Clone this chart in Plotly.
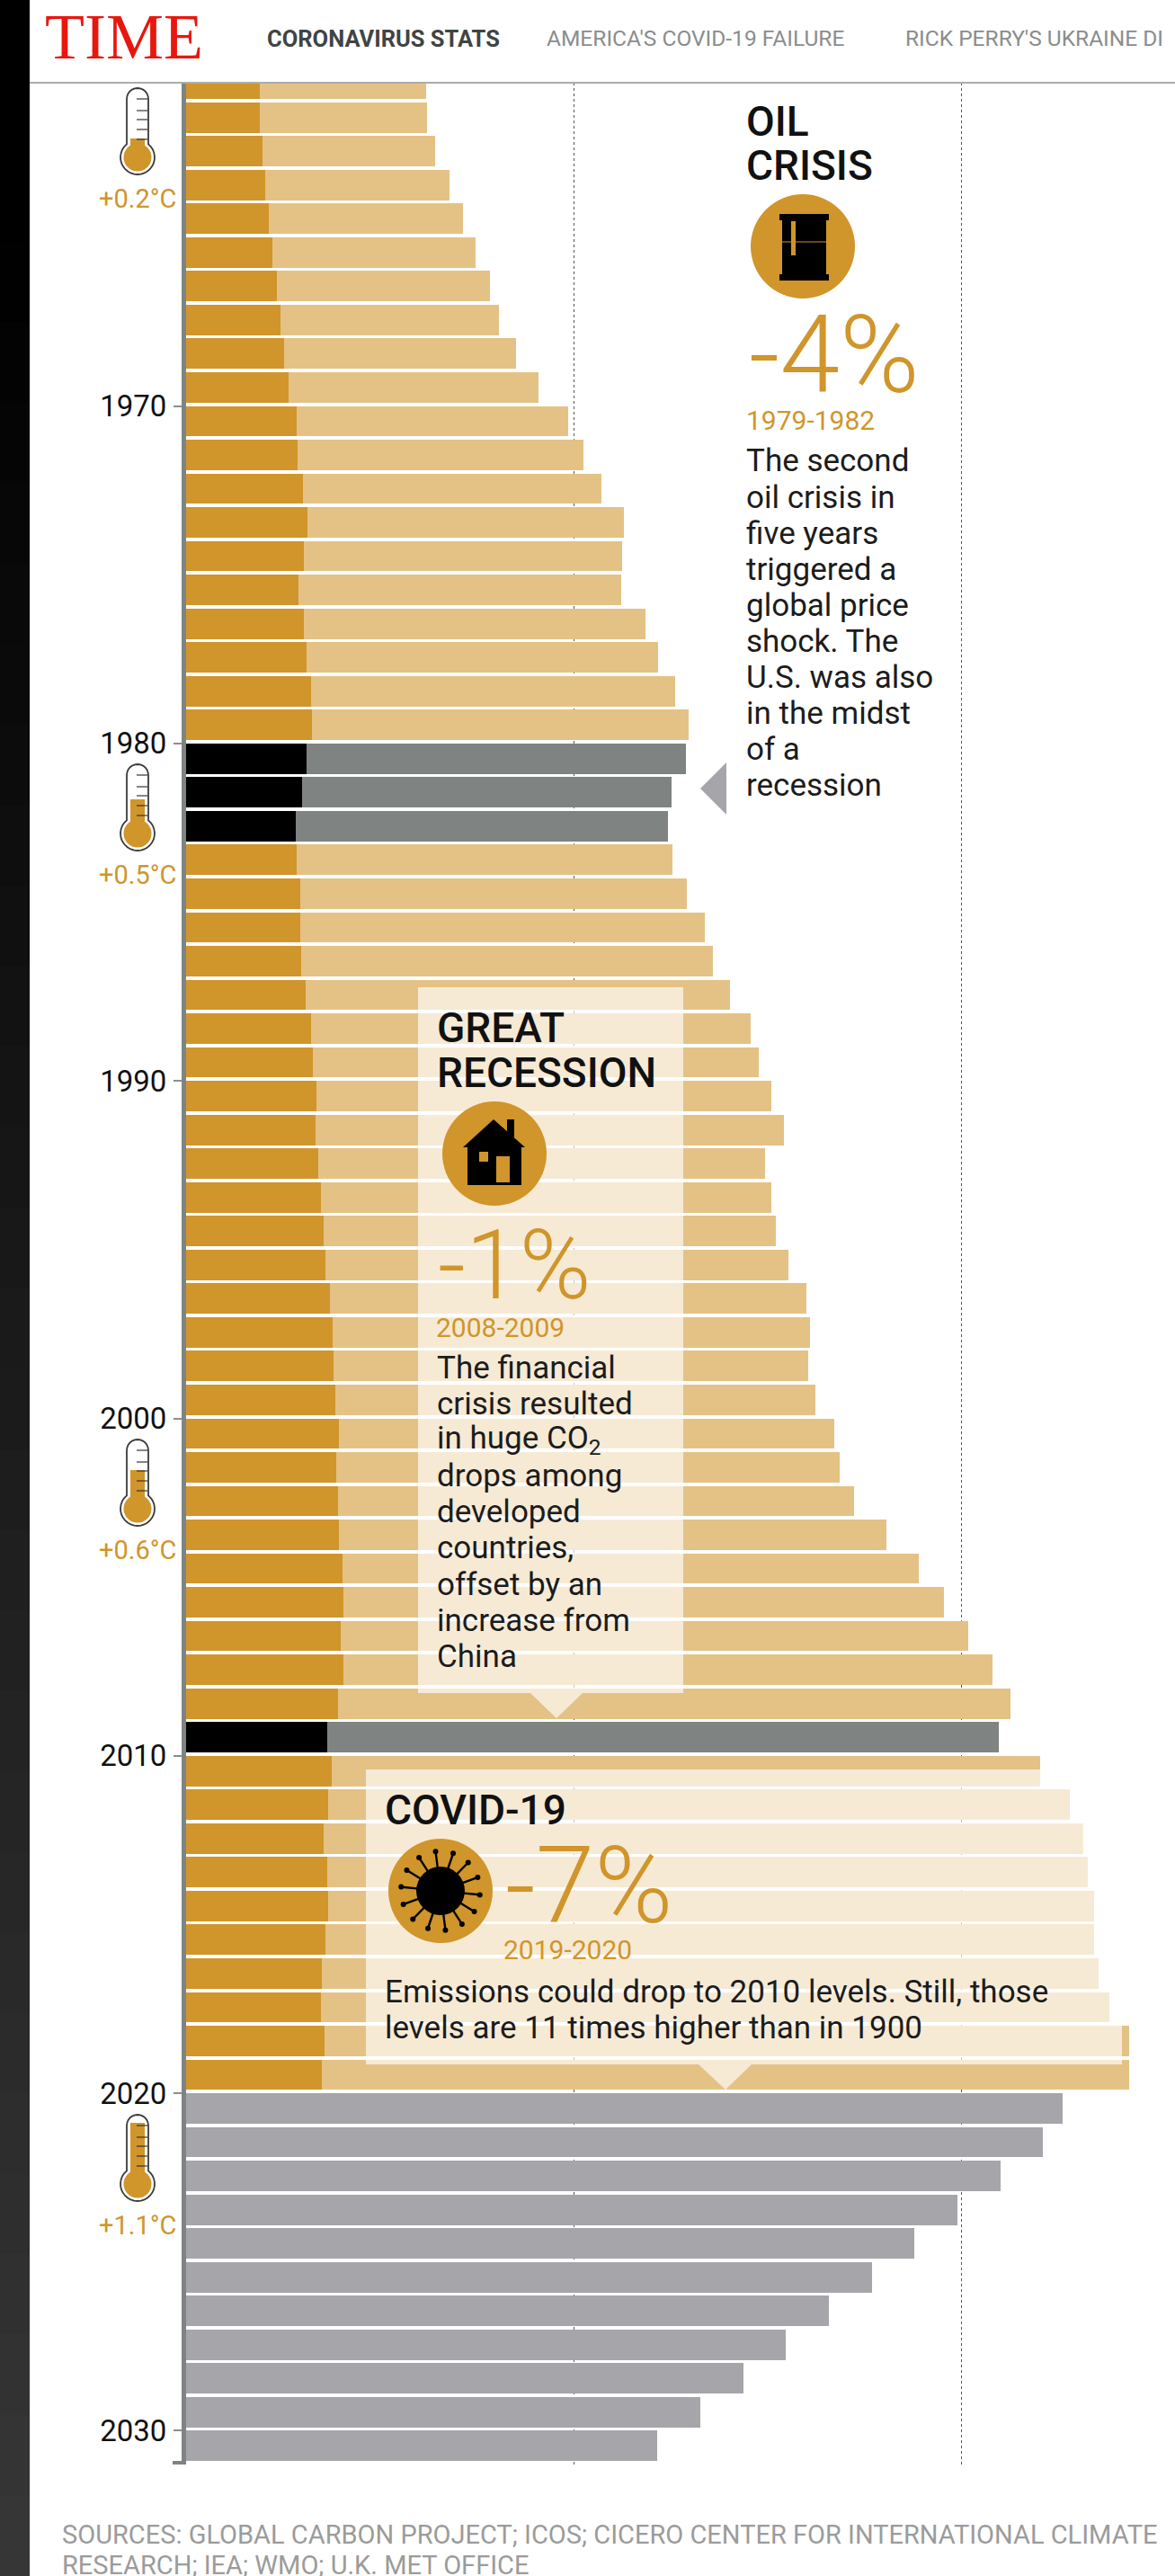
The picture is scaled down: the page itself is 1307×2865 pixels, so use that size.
import math
import plotly.graph_objects as go

W, H = 1307, 2865

years = list(range(1960, 2020))
dark_part = [3.81,3.81,3.93,4.08,4.28,4.47,4.70,4.86,5.05,5.28,
             5.71,5.75,6.02,6.25,6.06,5.78,6.09,6.21,6.44,6.48,
             6.21,5.98,5.67,5.71,5.90,5.90,5.94,6.17,6.44,6.52,
             6.75,6.67,6.83,6.95,7.10,7.18,7.41,7.56,7.60,7.68,
             7.91,7.76,7.83,7.91,8.07,8.11,7.99,8.11,7.83,7.29,
             7.53,7.33,7.10,7.29,7.33,7.18,7.02,6.95,7.14,7.02]
total = [12.40,12.44,12.86,13.60,14.29,14.95,15.68,16.15,17.04,18.20,
         19.71,20.52,21.45,22.61,22.49,22.45,23.69,24.35,25.24,25.93,
         25.78,25.08,24.89,25.12,25.85,26.78,27.17,28.06,29.14,29.57,
         30.22,30.84,29.88,30.22,30.42,31.07,32.04,32.20,32.12,32.50,
         33.47,33.74,34.48,36.14,37.84,39.12,40.39,41.63,42.56,41.94,
         44.10,45.61,46.31,46.54,46.85,46.85,47.08,47.66,48.67,48.67]
crisis_years = [1980, 1981, 1982, 2009]
proj_years = list(range(2020, 2031))
proj_total = [45.23,44.22,42.02,39.81,37.57,35.41,33.17,30.96,28.76,26.55,24.31]
tick_years = [1970, 1980, 1990, 2000, 2010, 2020, 2030]
grid_vals = [20, 40]

GOLD, LIGHT, BLACK, SLATE, FUT = "#d0952b", "#e4c286", "#000000", "#7f8382", "#a6a5a9"
TXT = "#1c1c1c"
FONT = "Roboto"

light_part = [round(t - d, 2) for t, d in zip(total, dark_part)]
fig = go.Figure()
fig.add_bar(y=years, x=dark_part, orientation="h", offset=0, width=0.9,
            marker=dict(color=[BLACK if y in crisis_years else GOLD for y in years], line_width=0),
            name="dark")
fig.add_bar(y=years, x=light_part, orientation="h", offset=0, width=0.9,
            marker=dict(color=[SLATE if y in crisis_years else LIGHT for y in years], line_width=0),
            name="light")
fig.add_bar(y=proj_years, x=proj_total, orientation="h", offset=0, width=0.9,
            marker=dict(color=FUT, line_width=0), name="projection")

fx = lambda x: x / W
fy = lambda y: 1 - y / H
shapes, notes = [], []

def rect(x0, y0, x1, y1, color, opacity=1):
    shapes.append(dict(type="rect", xref="paper", yref="paper", x0=fx(x0), x1=fx(x1),
                       y0=fy(y0), y1=fy(y1), fillcolor=color, opacity=opacity, line_width=0))

def circ(cx, cy, r, color):
    shapes.append(dict(type="circle", xref="paper", yref="paper", x0=fx(cx-r), x1=fx(cx+r),
                       y0=fy(cy-r), y1=fy(cy+r), fillcolor=color, line_width=0))

def poly(pts, fill, line=None, lw=0, opacity=1):
    p = "M" + " L".join(f"{fx(x):.6f},{fy(y):.6f}" for x, y in pts) + " Z"
    shapes.append(dict(type="path", xref="paper", yref="paper", path=p, fillcolor=fill,
                       opacity=opacity, line=dict(color=line or fill, width=lw)))

def seg(x0, y0, x1, y1, color, w):
    shapes.append(dict(type="line", xref="paper", yref="paper", x0=fx(x0), x1=fx(x1),
                       y0=fy(y0), y1=fy(y1), line=dict(color=color, width=w)))

def text(x, y, s, size, color=TXT, weight=400, anchor="left", family=FONT):
    notes.append(dict(xref="paper", yref="paper", x=fx(x), y=fy(y), text=s, showarrow=False,
                      xanchor=anchor, yanchor="middle", borderpad=0, borderwidth=0,
                      font=dict(size=size, color=color, family=family, weight=weight)))

# left dark strip
steps = 32
for i in range(steps):
    t = i / (steps - 1)
    v = int(round(max(0, (t - 0.08) / 0.92) * 0x36))
    rect(0, H * i / steps, 33, H * (i + 1) / steps + 1, f"rgb({v},{v},{v})")

# header
seg(33, 92, W, 92, "#a9adab", 2)
rect(192, 2737, 207, 2741, SLATE)

# annotation boxes
WASH = "#ffffff"
rect(465, 1098, 760, 1883, WASH, 0.65)
poly([(590, 1883), (648, 1883), (619, 1911)], WASH, opacity=0.65)
rect(407, 1968, 1248, 2296, WASH, 0.65)
poly([(777, 2296), (836, 2296), (807, 2324)], WASH, opacity=0.65)
poly([(808, 848), (808, 906), (779, 877)], FUT)

# thermometers
def thermo(top, level, label):
    cx, r, w = 153, 19, 12
    cy = top + 77
    pts = []
    for a in range(180, 361, 15):
        pts.append((cx + w * math.cos(math.radians(a)), top + w + w * math.sin(math.radians(a))))
    a0 = math.degrees(math.asin(w / r))
    start = -90 + a0
    n = 24
    for i in range(n + 1):
        a = math.radians(start + (360 - 2 * a0) * i / n)
        pts.append((cx + r * math.cos(a), cy + r * math.sin(a)))
    poly(pts, "#ffffff", "#3a3a3a", 1.8)
    rect(cx - 8, top + level, cx + 8, cy - 6, GOLD)
    circ(cx, cy, 15.5, GOLD)
    for dy in (12, 25, 35, 46, 57):
        seg(cx - 1, top + dy, cx + 11, top + dy, "#333333", 1.2)
    text(cx, top + 123, label, 29, GOLD, 400, "center")

thermo(98, 56, "+0.2°C")
thermo(850, 39, "+0.5°C")
thermo(1601, 34, "+0.6°C")
thermo(2352, 9, "+1.1°C")

# oil barrel icon
circ(893, 274, 58, GOLD)
rect(870, 242, 919, 309, BLACK)
rect(867, 238, 922, 245, BLACK)
rect(867, 305, 922, 312, BLACK)
rect(880, 246, 885, 284, GOLD)
seg(870, 269, 919, 269, GOLD, 1)

# house icon
circ(550, 1283, 58, GOLD)
rect(564, 1245, 572, 1266, BLACK)
poly([(549, 1245), (584, 1276), (515, 1276)], BLACK)
rect(520, 1274, 580, 1318, BLACK)
rect(533, 1281, 543, 1292, GOLD)
rect(552, 1286, 567, 1315, GOLD)

# virus icon
circ(490, 2103, 58, GOLD)
for k in range(14):
    a = 2 * math.pi * k / 14 + 0.1
    c, s = math.cos(a), math.sin(a)
    seg(490 + 24 * c, 2103 + 24 * s, 490 + 43 * c, 2103 + 43 * s, BLACK, 2.4)
    circ(490 + 44 * c, 2103 + 44 * s, 3, BLACK)
circ(490, 2103, 27, BLACK)

# header text
text(50, 41, "TIME", 72, "#e8170e", 400, "left", "Liberation Serif")
text(297, 43, "CORONAVIRUS STATS", 25.5, "#3f4444", 700)
text(608, 43, "AMERICA'S COVID-19 FAILURE", 24.5, "#8a8d8d", 400)
text(1007, 43, "RICK PERRY'S UKRAINE DI", 24.5, "#8a8d8d", 400)

# oil crisis
HEAD, BODY, BIG, SUB = 46, 35, 118, 30
text(830, 135, "OIL", HEAD, "#111111", 500)
text(830, 184, "CRISIS", HEAD, "#111111", 500)
text(833, 395, "-4%", 120, GOLD, 300)
text(830, 467, "1979-1982", SUB, GOLD)
oil_lines = ["The second", "oil crisis in", "five years", "triggered a", "global price",
             "shock. The", "U.S. was also", "in the midst", "of a", "recession"]
for i, s in enumerate(oil_lines):
    text(830, 513 + 40.1 * i, s, BODY)

# great recession
text(486, 1143, "GREAT", HEAD, "#111111", 500)
text(486, 1193, "RECESSION", HEAD, "#111111", 500)
text(487, 1407, "-1%", 108, GOLD, 300)
text(485, 1476, "2008-2009", SUB, GOLD)
rec_lines = ["The financial", "crisis resulted", "in huge CO<sub>2</sub>", "drops among", "developed",
             "countries,", "offset by an", "increase from", "China"]
for i, s in enumerate(rec_lines):
    text(486, 1521.5 + 40.1 * i, s, BODY)

# covid
text(428, 2013, "COVID-19", HEAD, "#111111", 500)
text(562, 2098, "-7%", BIG, GOLD, 300)
text(560, 2168, "2019-2020", SUB, GOLD)
text(428, 2215.5, "Emissions could drop to 2010 levels. Still, those", BODY)
text(428, 2255, "levels are 11 times higher than in 1900", BODY)

# sources
text(69, 2819, "SOURCES: GLOBAL CARBON PROJECT; ICOS; CICERO CENTER FOR INTERNATIONAL CLIMATE", 29, "#9b9b9b")
text(69, 2853, "RESEARCH; IEA; WMO; U.K. MET OFFICE", 29, "#9b9b9b")

fig.update_layout(
    width=W, height=H, autosize=False, barmode="stack", showlegend=False,
    margin=dict(l=0, r=0, t=0, b=0), paper_bgcolor="#ffffff", plot_bgcolor="#ffffff",
    shapes=shapes, annotations=notes, font=dict(family=FONT),
    xaxis=dict(domain=[207 / W, 1], range=[0, (W - 207) / 21.55], tickvals=grid_vals,
               showticklabels=False, ticks="", showgrid=True, gridcolor="#555555", gridwidth=1,
               griddash="dot", zeroline=False, showline=False, fixedrange=True),
    yaxis=dict(domain=[1 - 2741 / H, 1 - 92 / H], range=[2031, 1960.42], tickmode="array",
               tickvals=tick_years, ticktext=[str(y) for y in tick_years], ticks="outside",
               ticklen=9, tickwidth=2, tickcolor="#8a8e8d", showgrid=False, zeroline=False,
               showline=True, linecolor=SLATE, linewidth=5, ticklabelstandoff=1,
               tickfont=dict(size=33, color="#111111", family=FONT), fixedrange=True),
)
fig.write_html("out.html", config=dict(displayModeBar=False),
               post_script="document.body.style.margin='0';document.documentElement.style.overflow='hidden';")
